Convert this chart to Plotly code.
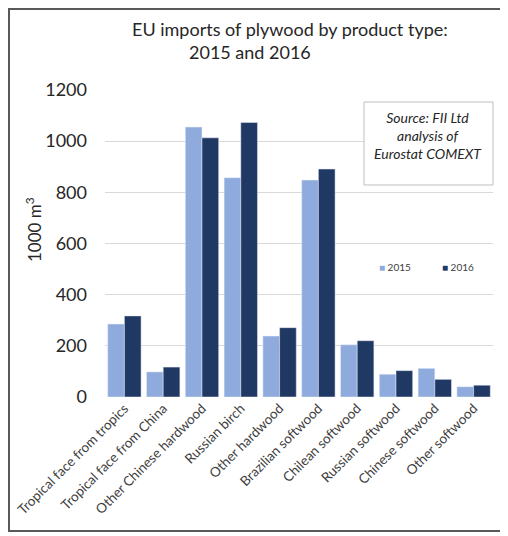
import plotly.graph_objects as go

# EU plywood imports by product type, 1000 m3
categories = [
    "Tropical face from tropics",
    "Tropical face from China",
    "Other Chinese hardwood",
    "Russian birch",
    "Other hardwood",
    "Brazilian softwood",
    "Chilean softwood",
    "Russian softwood",
    "Chinese softwood",
    "Other softwood",
]
imports_2015 = [285, 98, 1055, 857, 238, 848, 204, 89, 112, 40]
imports_2016 = [317, 117, 1013, 1073, 271, 891, 220, 103, 69, 46]
y_ticks = [0, 200, 400, 600, 800, 1000, 1200]

FONT = "Lato"
LIGHT = "#8FAADC"
DARK = "#203864"
TXT = "#262626"

fig = go.Figure()
fig.add_trace(go.Bar(name="2015", x=categories, y=imports_2015, marker_color=LIGHT))
fig.add_trace(go.Bar(name="2016", x=categories, y=imports_2016, marker_color=DARK))

# page body adds ~8px offset, so margins are shifted by that
fig.update_layout(
    width=508, height=536,
    margin=dict(l=97, r=23, t=82, b=147, autoexpand=False),
    paper_bgcolor="white", plot_bgcolor="white",
    barmode="group", bargap=0.14, bargroupgap=0,
    font=dict(family=FONT, color="#404040"),
    showlegend=False,
)

fig.update_xaxes(
    tickangle=-45, tickfont=dict(size=13.5, color="#404040"),
    showline=False, ticks="", showgrid=False, automargin=False,
)
fig.update_yaxes(
    range=[0, 1200], tickvals=y_ticks, tickfont=dict(size=18, color=TXT),
    showgrid=True, gridcolor="#D9D9D9", gridwidth=1, zeroline=False,
    showline=False, ticks="", ticklabelstandoff=17, automargin=False,
)

# title (two lines, each centred on its own)
fig.add_annotation(text="EU imports of plywood by product type:", xref="paper", yref="paper",
                   x=0.4768, y=1.1987, showarrow=False, font=dict(size=18, color=TXT),
                   xanchor="center", yanchor="middle")
fig.add_annotation(text="2015 and 2016", xref="paper", yref="paper",
                   x=0.3737, y=1.1238, showarrow=False, font=dict(size=18, color=TXT),
                   xanchor="center", yanchor="middle")

# y axis label
fig.add_annotation(text="1000 m<sup>3</sup>", xref="paper", yref="paper",
                   x=-0.1856, y=0.547, showarrow=False, textangle=-90,
                   font=dict(size=17, color=TXT), xanchor="center", yanchor="middle")

# legend keys
for name, color, lx in [("2015", LIGHT, 0.701), ("2016", DARK, 0.8634)]:
    fig.add_annotation(text=f"<span style='color:{color}'>■</span> {name}",
                       xref="paper", yref="paper", x=lx, y=0.4235, showarrow=False,
                       font=dict(size=10, color="#404040"), xanchor="left", yanchor="middle")

# source box
fig.add_shape(type="rect", xref="paper", yref="paper", x0=0.6675, x1=1.0, y0=0.6906, y1=0.961,
              line=dict(color="#BFBFBF", width=1), fillcolor="white", layer="above")
fig.add_annotation(text="<i>Source: FII Ltd<br>analysis of<br>Eurostat COMEXT</i>",
                   xref="paper", yref="paper", x=0.8337, y=0.853, showarrow=False,
                   font=dict(size=14, color=TXT), align="center",
                   xanchor="center", yanchor="middle")

# outer frame
fig.add_shape(type="rect", xref="paper", yref="paper", x0=-0.2474, x1=1.0258, y0=-0.4365, y1=1.2638,
              line=dict(color="#595959", width=2), fillcolor="rgba(0,0,0,0)")

fig.write_html("out.html")
